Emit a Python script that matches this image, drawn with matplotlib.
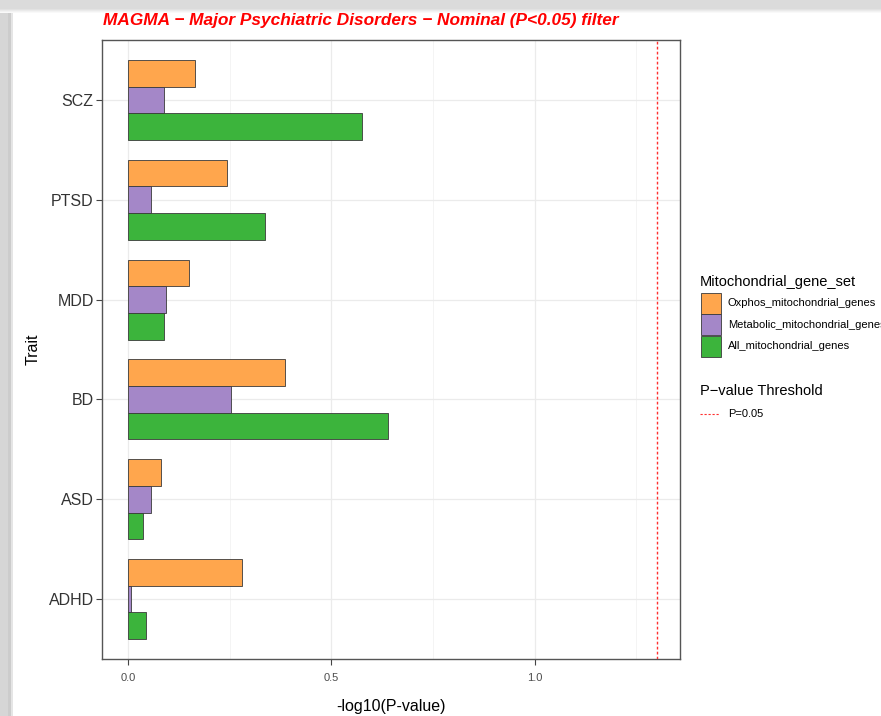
import numpy as np
import matplotlib
matplotlib.use("Agg")
import matplotlib.pyplot as plt
from matplotlib import font_manager
from matplotlib.patches import Rectangle
from matplotlib.lines import Line2D
from matplotlib.ticker import MultipleLocator

plt.rcParams["font.family"] = ["Liberation Sans", "DejaVu Sans"]

# -log10(P) per trait and mitochondrial gene set
traits = ["ADHD", "ASD", "BD", "MDD", "PTSD", "SCZ"]
gene_sets = ["Oxphos_mitochondrial_genes", "Metabolic_mitochondrial_genes", "All_mitochondrial_genes"]
oxphos = [0.280, 0.082, 0.387, 0.150, 0.244, 0.165]
metabolic = [0.007, 0.056, 0.253, 0.093, 0.057, 0.089]
all_mito = [0.043, 0.036, 0.640, 0.088, 0.336, 0.575]
set_colors = ["#FFA64D", "#A487C8", "#3CB43C"]
x_ticks = [0.0, 0.5, 1.0]
x_tick_labels = ["0.0", "0.5", "1.0"]
threshold_p = 0.05

W, H = 881, 716
fig = plt.figure(figsize=(W / 100, H / 100), dpi=100)
fig.patch.set_facecolor("white")


def fx(x):
    return x / W


def fy(y):
    return 1 - y / H


# soft grey frame along the top and left edges
bg = np.ones((H, W, 3))
for r in range(13):
    v = 0.86 if r < 9 else 0.86 + (r - 8) * 0.03
    bg[r, :, :] = v
for c in range(13):
    v = 0.84 if c < 8 else (0.80 if c < 11 else 0.90)
    bg[13:, c, :] = np.minimum(bg[13:, c, :], v)
bg_ax = fig.add_axes([0, 0, 1, 1], zorder=-10)
bg_ax.imshow(bg, aspect="auto", interpolation="bilinear")
bg_ax.axis("off")

ax = fig.add_axes([fx(102), fy(659), fx(680) - fx(102), fy(40) - fy(659)])
ax.set_facecolor("white")

y = np.arange(1, len(traits) + 1)
bar_h = 0.8 / 3
series = [oxphos, metabolic, all_mito]
offsets = [bar_h, 0.0, -bar_h]
for vals, off, col in zip(series, offsets, set_colors):
    ax.barh(y + off, vals, height=bar_h, color=col, edgecolor="#3a3a3a",
            linewidth=0.6, zorder=3)

thr = -np.log10(threshold_p)
ax.axvline(thr, color="#FF3030", linewidth=1.0, linestyle=(0, (2, 1.6)), zorder=4)

ax.set_xlim(-0.064, 1.357)
ax.set_ylim(0.4, len(traits) + 0.6)
ax.set_xticks(x_ticks)
ax.set_xticklabels(x_tick_labels)
ax.xaxis.set_minor_locator(MultipleLocator(0.25))
ax.set_yticks(y)
ax.set_yticklabels(traits)

ax.grid(which="major", color="#EBEBEB", linewidth=0.9, zorder=0)
ax.grid(which="minor", axis="x", color="#F2F2F2", linewidth=0.6, zorder=0)
ax.set_axisbelow(True)

for s in ax.spines.values():
    s.set_color("#555555")
    s.set_linewidth(1.0)

ax.tick_params(axis="both", which="major", length=4, width=0.8, color="#444444")
ax.tick_params(axis="both", which="minor", length=0)
ax.tick_params(axis="y", labelsize=11.5, labelcolor="#333333", pad=2)
ax.tick_params(axis="x", labelsize=8, labelcolor="#4D4D4D", pad=6)

ax.set_xlabel("-log10(P-value)", fontsize=11.5, color="black")
ax.xaxis.set_label_coords(0.5, (659 - 706) / 619)
ax.xaxis.label.set_va("center")
ax.set_ylabel("Trait", fontsize=11.5, color="black")
ax.yaxis.set_label_coords((33 - 102) / 578, 0.5)
ax.yaxis.label.set_va("center")

# title in a narrow face when available, sized to span 515 px
names = {f.name for f in font_manager.fontManager.ttflist}
title_family = "Liberation Sans Narrow" if "Liberation Sans Narrow" in names else "Liberation Sans"
title = fig.text(fx(103), fy(21), "MAGMA \u2212 Major Psychiatric Disorders \u2212 Nominal (P<0.05) filter",
                 color="#FF0000", fontweight="bold", fontstyle="italic",
                 family=title_family, fontsize=14, ha="left", va="center")
renderer = fig.canvas.get_renderer()
w0 = title.get_window_extent(renderer).width
title.set_fontsize(14 * 515 / w0)

# legend: gene sets
fig.text(fx(700), fy(282), "Mitochondrial_gene_set", fontsize=10.5, ha="left", va="center")
key_top = 292.5
for i, (lab, col) in enumerate(zip(gene_sets, set_colors)):
    top = key_top + i * 21.5
    fig.patches.append(Rectangle((fx(701), fy(top + 21)), fx(721) - fx(701), fy(top) - fy(top + 21),
                                 transform=fig.transFigure, facecolor=col,
                                 edgecolor="#3a3a3a", linewidth=0.6))
    fig.text(fx(728), fy(top + 10.5), lab, fontsize=8, ha="left", va="center")

# legend: threshold
fig.text(fx(700), fy(391), "P\u2212value Threshold", fontsize=10.5, ha="left", va="center")
fig.lines.append(Line2D([fx(700), fx(719)], [fy(414), fy(414)], transform=fig.transFigure,
                        color="#FF3030", linewidth=0.8, linestyle=(0, (2, 1.6))))
fig.text(fx(728), fy(414), "P=0.05", fontsize=8, ha="left", va="center")

fig.savefig("out.png", dpi=100)
